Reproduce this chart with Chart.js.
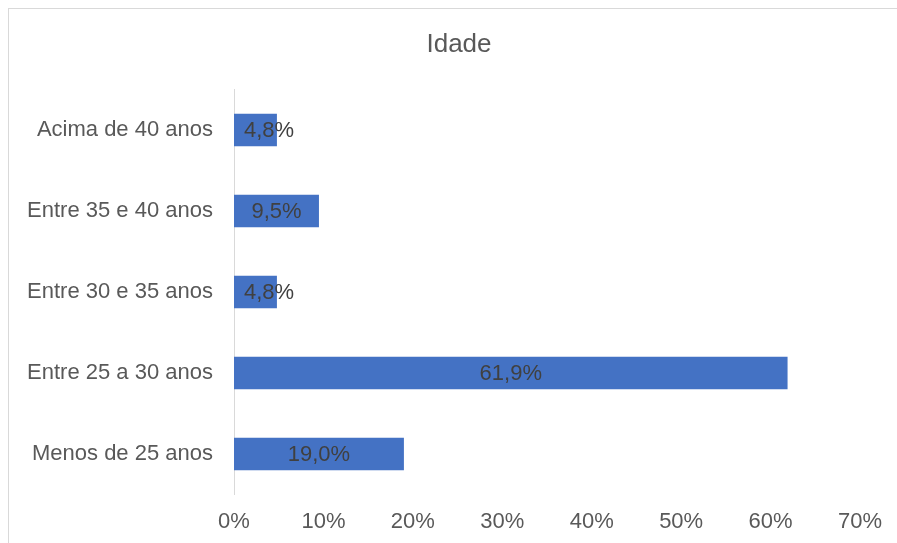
<!DOCTYPE html>
<html>
<head>
<meta charset="utf-8">
<script src="https://cdn.jsdelivr.net/npm/chart.js@4"></script>
<style>
  html, body { margin: 0; padding: 0; background: #fff; overflow: hidden; }
  #frame { position: absolute; left: 8px; top: 8px; width: 1000px; height: 1000px; border: 1px solid #d9d9d9; }
  #c { position: absolute; left: 0; top: 0; }
</style>
</head>
<body>
<div id="frame"></div>
<canvas id="c" width="897" height="543"></canvas>
<script>
var categories = [
	"Acima de 40 anos",
	"Entre 35 e 40 anos",
	"Entre 30 e 35 anos",
	"Entre 25 a 30 anos",
	"Menos de 25 anos",
];
var percentValues = [4.8, 9.5, 4.8, 61.9, 19.0];
var xTicks = [0, 10, 20, 30, 40, 50, 60, 70];
var chartTitle = "Idade";

var fontFamily = "'Liberation Sans', Arial, sans-serif";

// value labels inside the bars, pushed right when the bar is too short
var barLabels = {
	id: "barLabels",
	afterDatasetsDraw: function (chart) {
		var ctx = chart.ctx;
		var meta = chart.getDatasetMeta(0);
		ctx.save();
		ctx.font = "22px " + fontFamily;
		ctx.fillStyle = "#404040";
		ctx.textAlign = "center";
		ctx.textBaseline = "middle";
		meta.data.forEach(function (bar, i) {
			var txt = percentValues[i].toFixed(1).replace(".", ",") + "%";
			var w = ctx.measureText(txt).width;
			var cx = (bar.base + bar.x) / 2;
			if (cx - w / 2 < bar.base + 10) cx = bar.base + 10 + w / 2;
			ctx.fillText(txt, cx, bar.y + 1);
		});
		ctx.restore();
	},
};

// title is centred on the whole frame (which runs past the right edge), not the canvas
var frameTitle = {
	id: "frameTitle",
	afterDraw: function (chart) {
		var ctx = chart.ctx;
		ctx.save();
		ctx.font = "26px " + fontFamily;
		ctx.fillStyle = "#595959";
		ctx.textAlign = "center";
		ctx.textBaseline = "middle";
		ctx.fillText(chartTitle, 459, 45);
		ctx.restore();
	},
};

new Chart(document.getElementById("c"), {
	type: "bar",
	data: {
		labels: categories,
		datasets: [
			{
				data: percentValues,
				backgroundColor: "#4472C4",
				borderWidth: 0,
				categoryPercentage: 1,
				barPercentage: 0.4,
			},
		],
	},
	options: {
		indexAxis: "y",
		responsive: false,
		animation: false,
		devicePixelRatio: 1,
		layout: { padding: { left: 0, right: 37, top: 89.5, bottom: 0 } },
		plugins: {
			legend: { display: false },
			tooltip: { enabled: false },
			title: { display: false },
		},
		scales: {
			x: {
				min: 0,
				max: 70,
				afterBuildTicks: function (axis) {
					axis.ticks = xTicks.map(function (v) { return { value: v }; });
				},
				afterFit: function (axis) { axis.height = 48.5; },
				grid: { display: false, drawTicks: false },
				border: { display: false },
				ticks: {
					padding: 14,
					color: "#595959",
					font: { family: fontFamily, size: 22 },
					callback: function (v) { return v + "%"; },
				},
			},
			y: {
				afterFit: function (axis) { axis.width = 234; },
				grid: { display: false, drawTicks: false },
				border: { display: true, color: "#d9d9d9", width: 1 },
				ticks: {
					padding: 21,
					color: "#595959",
					font: { family: fontFamily, size: 22 },
				},
			},
		},
	},
	plugins: [barLabels, frameTitle],
});
</script>
</body>
</html>
